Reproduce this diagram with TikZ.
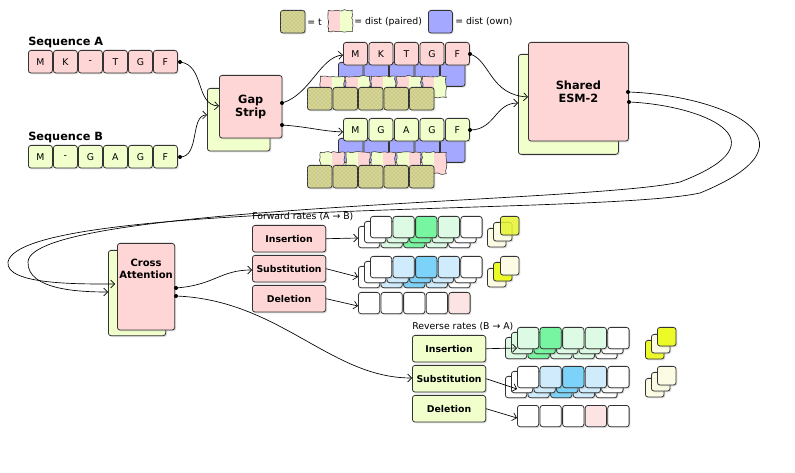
\documentclass[tikz,border=0pt]{standalone}
\usepackage{fontspec}
\setmainfont{DejaVu Sans}
\usetikzlibrary{shadows,patterns,arrows.meta,decorations.pathmorphing}
\definecolor{pk}{RGB}{255,214,214}
\definecolor{gr}{RGB}{240,255,204}
\definecolor{bl}{RGB}{165,168,255}
\definecolor{ol}{RGB}{214,214,140}
\definecolor{lg}{RGB}{220,250,228}
\definecolor{mg}{RGB}{120,245,160}
\definecolor{lb}{RGB}{208,236,252}
\definecolor{mb}{RGB}{125,210,250}
\definecolor{ly}{RGB}{252,252,228}
\definecolor{yy}{RGB}{236,250,40}
\definecolor{lp}{RGB}{253,228,228}
\begin{document}
\begin{tikzpicture}[x=0.75pt,y=-0.75pt,
  box/.style={draw=black!80,rounded corners=2pt,line width=0.6pt,drop shadow={opacity=0.25,shadow xshift=1pt,shadow yshift=-1pt}},
  cell/.style={box,minimum width=18pt,minimum height=17pt,inner sep=0pt,anchor=north west,font=\fontsize{7}{8}\selectfont},
  small/.style={box,minimum width=16pt,minimum height=16pt,inner sep=0pt,anchor=north west},
  big/.style={box,inner sep=0pt,anchor=north west,font=\bfseries\fontsize{8.5}{10}\selectfont,align=center},
  rate/.style={box,minimum width=55pt,minimum height=20pt,inner sep=0pt,anchor=north west,font=\bfseries\fontsize{7}{8}\selectfont},
  con/.style={line width=0.5pt,-{Straight Barb[length=3pt]}},
  dot/.style={circle,fill=black,inner sep=0pt,minimum size=3pt},
  lbl/.style={font=\bfseries\fontsize{8.5}{10}\selectfont,anchor=west,inner sep=0pt},
  tcell/.style={small,minimum width=18.5pt,minimum height=17pt,fill=ol,postaction={pattern=crosshatch dots,pattern color=black!35}},
  pair/.style={draw=black!80,line width=0.4pt,decorate,decoration={random steps,segment length=2pt,amplitude=0.6pt},minimum width=18pt,minimum height=16pt,inner sep=0pt,anchor=north west,
    path picture={\fill[#1] (path picture bounding box.south west) rectangle (path picture bounding box.north);}},
  legtxt/.style={anchor=west,font=\fontsize{7}{8}\selectfont,inner sep=0pt}]
\useasboundingbox (0,0) rectangle (795,473);
% legend
\node[tcell] (lt) at (280,10) {};
\node[legtxt] (ltt) at (307,22) {= t};
\node[pair=pk,fill=gr] (lp) at (328,10) {};
\node[legtxt] (lpt) at (354,22) {= dist (paired)};
\node[small,fill=bl,minimum width=18pt,minimum height=17pt] (lb) at (428,10) {};
\node[legtxt] (lbt) at (455,22) {= dist (own)};
% sequences
\node[lbl] (sa) at (28,42) {Sequence A};
\node[lbl] (sb) at (28,137) {Sequence B};
\foreach \l [count=\i from 0] in {M,K,-,T,G,F} \node[cell,fill=pk] (a\i) at (28+25*\i,50) {\l};
\foreach \l [count=\i from 0] in {M,-,G,A,G,F} \node[cell,fill=gr] (b\i) at (28+25*\i,145) {\l};
% gap strip
\node[big,fill=gr,minimum width=47pt,minimum height=47pt] (gb) at (207,88) {};
\node[big,fill=pk,minimum width=47pt,minimum height=47pt] (gs) at (219,75) {Gap\\Strip};
% upper stack
\foreach \i in {0,...,4} \node[small,fill=bl,minimum width=18.5pt,minimum height=18pt] (ub\i) at (338+25.5*\i,62) {};
\foreach \l [count=\i from 0] in {M,K,T,G,F} \node[cell,fill=pk] (u\i) at (343+25.5*\i,42) {\l};
\foreach \i in {0,...,4} \node[pair=pk,fill=gr] (up\i) at (320+25.5*\i,76) {};
\foreach \i in {0,...,4} \node[tcell] (ut\i) at (307+25.5*\i,87) {};
\foreach \i in {0,...,4} \node[small,fill=bl,minimum width=18.5pt,minimum height=18pt] (lb\i) at (338+25.5*\i,138) {};
\foreach \l [count=\i from 0] in {M,G,A,G,F} \node[cell,fill=gr] (l\i) at (343+25.5*\i,118) {\l};
\foreach \i in {0,...,4} \node[pair=gr,fill=pk] (lp\i) at (320+25.5*\i,152) {};
\foreach \i in {0,...,4} \node[tcell] (lt\i) at (307+25.5*\i,165) {};
% ESM
\node[big,fill=gr,minimum width=75pt,minimum height=75pt] (eb) at (518,54) {};
\node[big,fill=pk,minimum width=75pt,minimum height=74pt] (es) at (528,42) {Shared\\ESM-2};
% cross attention
\node[big,fill=gr,minimum width=43pt,minimum height=64pt] (cb) at (108,250) {};
\node[big,fill=pk,minimum width=43pt,minimum height=65pt,font=\bfseries\fontsize{7.5}{9}\selectfont] (ca) at (117,243) {Cross\\Attention\\[18pt]};
% rate boxes
\node[legtxt] (fr) at (252,217) {Forward rates (A → B)};
\node[rate,fill=pk] (fi) at (252,225) {Insertion};
\node[rate,fill=pk] (fs) at (252,255) {Substitution};
\node[rate,fill=pk] (fd) at (252,285) {Deletion};
\node[legtxt] (rr) at (412,327) {Reverse rates (B → A)};
\node[rate,fill=gr] (ri) at (412,335) {Insertion};
\node[rate,fill=gr] (rs) at (412,365) {Substitution};
\node[rate,fill=gr] (rd) at (412,395) {Deletion};
% rate cell stacks
\newcommand\rstack[7]{%
  \foreach \k in {2,1,0} {
    \foreach \c [count=\j from 0] in {#3,#4,#5,#6,#7}
      \node[small,fill=\c,minimum width=16pt] at (#1-6*\k+22.6*\j,#2+5*\k) {};}}
\rstack{370}{216}{white}{lg}{mg}{lg}{white}
\rstack{370}{256}{white}{lb}{mb}{lb}{white}
\rstack{517}{327}{lg}{mg}{lg}{lg}{white}
\rstack{517}{366}{white}{lb}{mb}{lb}{white}
\foreach \c [count=\j from 0] in {white,white,white,white,lp} \node[small,fill=\c] (fdc\j) at (358+22.6*\j,292) {};
\foreach \c [count=\j from 0] in {white,white,white,lp,white} \node[small,fill=\c] (rdc\j) at (517+22.6*\j,405) {};
% yellow stacks
\node[small,fill=ly,minimum size=14pt] (y1) at (487,228) {};
\node[small,fill=ly,minimum size=14pt] (y2) at (493,222) {};
\node[small,fill=yy,fill opacity=0.8,minimum size=14pt] (y3) at (500,216) {};
\node[small,fill=ly,minimum size=14pt] (y4) at (487,268) {};
\node[small,fill=yy,minimum size=14pt] (y5) at (493,262) {};
\node[small,fill=ly,minimum size=14pt] (y6) at (500,256) {};
\node[small,fill=yy,minimum size=14pt] (y7) at (645,340) {};
\node[small,fill=ly,minimum size=14pt] (y8) at (651,334) {};
\node[small,fill=yy,minimum size=14pt] (y9) at (657,327) {};
\node[small,fill=ly,minimum size=14pt] (y10) at (645,378) {};
\node[small,fill=ly,minimum size=14pt] (y11) at (651,372) {};
\node[small,fill=ly,minimum size=14pt] (y12) at (657,366) {};
% connectors
\coordinate (pa) at (180,62); \coordinate (pb) at (180,157);
\node[dot] at (pa) {}; \node[dot] at (pb) {};
\draw[con] (pa) .. controls (205,65) and (195,105) .. (219,106);
\draw[con] (pb) .. controls (200,157) and (190,115) .. (207,115);
\coordinate (g1) at (282,103); \coordinate (g2) at (282,125);
\node[dot] at (g1) {}; \node[dot] at (g2) {};
\draw[con] (g1) .. controls (310,95) and (320,57) .. (343,55);
\draw[con] (g2) .. controls (310,127) and (320,131) .. (343,132);
\coordinate (u4r) at (470,54); \coordinate (l4r) at (470,130);
\node[dot] at (u4r) {}; \node[dot] at (l4r) {};
\draw[con] (u4r) .. controls (490,60) and (490,95) .. (528,97);
\draw[con] (l4r) .. controls (495,130) and (495,103) .. (518,103);
\coordinate (e1) at (628,92); \coordinate (e2) at (629,102);
\node[dot] at (e1) {}; \node[dot] at (e2) {};
\draw[con] (e1) .. controls (720,95) and (830,140) .. (700,193) .. controls (600,215) and (20,200) .. (8,262) .. controls (5,285) and (80,284) .. (115,284);
\draw[con] (e2) .. controls (700,105) and (790,140) .. (680,182) .. controls (590,203) and (30,205) .. (28,262) .. controls (27,290) and (80,292) .. (108,292);
\coordinate (c1) at (176,288); \coordinate (c2) at (176,296);
\node[dot] at (c1) {}; \node[dot] at (c2) {};
\draw[con] (c1) .. controls (215,285) and (220,270) .. (252,270);
\draw[con] (c2) .. controls (280,300) and (330,378) .. (412,378);
\draw[con] (fi.east) -- (358,238);
\draw[con] (fs.east) -- (358,277);
\draw[con] (fd.east) -- (358,306);
\draw[con] (ri.east) -- (517,348);
\draw[con] (rs.east) -- (517,389);
\draw[con] (rd.east) -- (517,418);
\end{tikzpicture}
\end{document}
